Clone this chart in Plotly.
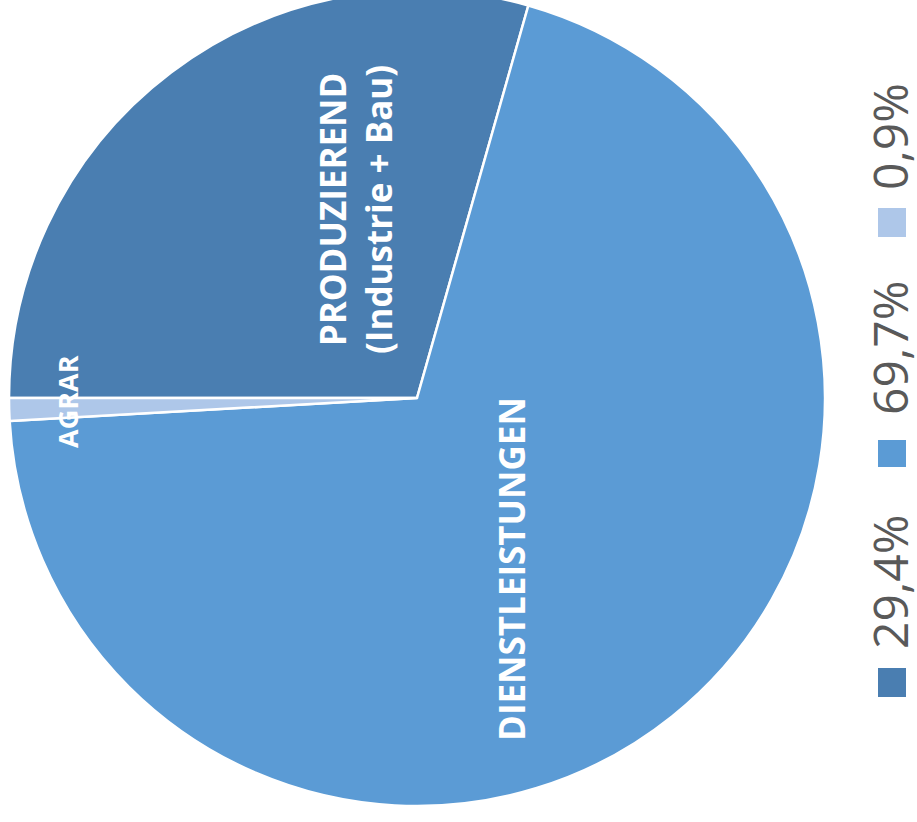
import plotly.graph_objects as go

# ---- data ----
sectors = ["PRODUZIEREND<br>(Industrie + Bau)", "DIENSTLEISTUNGEN", "AGRAR"]
shares = [29.4, 69.7, 0.9]
colors = ["#4a7eb1", "#5b9bd5", "#aec7e9"]

W, H = 917, 822
T = 10            # part of the figure hidden above the page top (pie is cut at top)
HF = H + T        # figure height


def px(x):
    return x / W


def py(y):
    # y given in screenshot pixels (from top of the visible page)
    return 1 - (y + T) / HF


fig = go.Figure()
fig.add_trace(go.Pie(
    labels=sectors,
    values=shares,
    sort=False,
    direction="clockwise",
    rotation=270,
    marker=dict(colors=colors, line=dict(color="white", width=2.5)),
    textinfo="none",
    hoverinfo="label+percent",
    showlegend=False,
    domain=dict(x=[px(9), px(825)], y=[py(806), py(-10)]),
))

# slice labels (rotated, like the reference)
label_pos = [(356, 210), (511, 569), (67, 402)]
label_size = [35, 35, 27]
for name, (lx, ly), fs in zip(sectors, label_pos, label_size):
    fig.add_annotation(
        x=px(lx), y=py(ly), xref="paper", yref="paper",
        text=name, showarrow=False, textangle=-90,
        xanchor="center", yanchor="middle",
        font=dict(family="Open Sans", size=fs, color="white", weight=700),
    )

# rotated legend: colored squares + percentage texts
legend_sq = [(668, 697), (440, 467), (208, 237)]
legend_txt_y = [582, 348, 137]
for val, col, (y0, y1), ty in zip(shares, colors, legend_sq, legend_txt_y):
    fig.add_shape(
        type="rect", xref="paper", yref="paper",
        x0=px(878), x1=px(906), y0=py(y1), y1=py(y0),
        fillcolor=col, line=dict(width=0),
    )
    fig.add_annotation(
        x=px(889), y=py(ty), xref="paper", yref="paper",
        text=f"{val:.1f}%".replace(".", ","), showarrow=False, textangle=-90,
        xanchor="center", yanchor="middle", borderpad=0,
        font=dict(family="Open Sans", size=48, color="#595959"),
    )

fig.update_layout(
    width=W, height=HF,
    margin=dict(l=0, r=0, t=0, b=0),
    paper_bgcolor="white", plot_bgcolor="white",
)

fig.write_html(
    "out.html",
    config={"displayModeBar": False},
    post_script=(
        "document.body.style.margin='0';"
        "document.body.style.overflow='hidden';"
        "document.getElementById('{plot_id}').style.marginTop='-%dpx';" % T
    ),
)
